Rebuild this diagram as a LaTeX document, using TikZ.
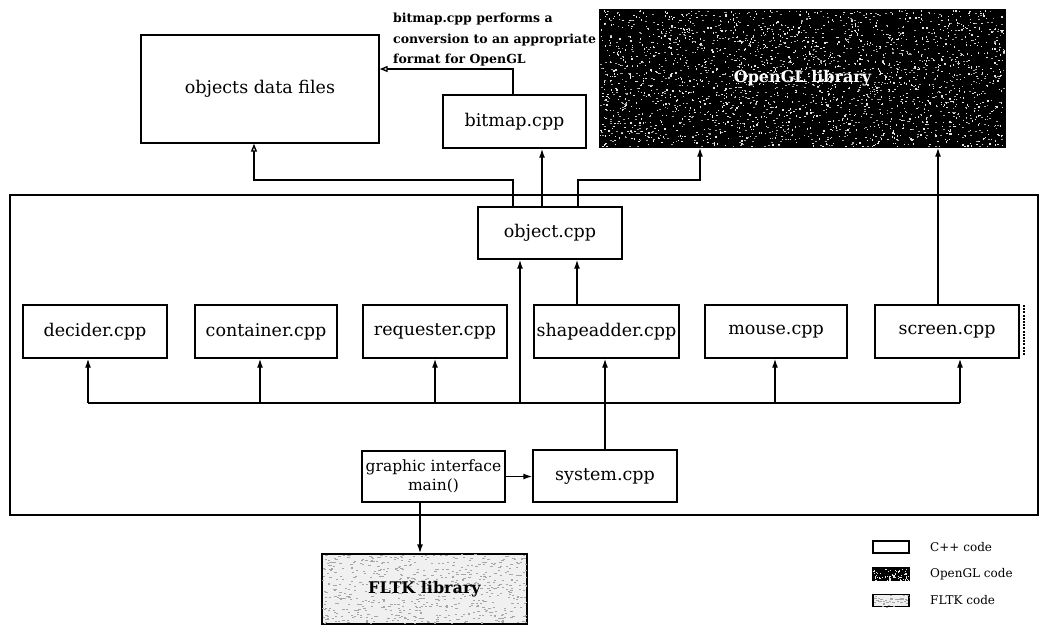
\documentclass[tikz,border=0pt]{standalone}
\usepackage{fontspec}
\setmainfont{DejaVu Serif}
\usetikzlibrary{arrows.meta}

\tikzset{
  cppbox/.style={draw, line width=1.4pt, inner sep=0pt, fill=white,
    font=\fontsize{17.5}{20}\selectfont},
  ln/.style={line width=1.4pt},
  fa/.style={ln, -{Latex[length=9pt,width=6pt]}},
  oa/.style={ln, -{Triangle[open,length=8pt,width=6pt]}},
  note/.style={font=\fontsize{12.5}{20.5}\selectfont\bfseries, align=left, inner sep=0pt},
  legtext/.style={font=\fontsize{12}{14}\selectfont, anchor=west, inner sep=0pt},
  libtext/.style={font=\fontsize{16}{18}\selectfont\bfseries, inner sep=0pt}
}

\begin{document}
\begin{tikzpicture}[x=1pt, y=-1pt]
\useasboundingbox (0,0) rectangle (1043,626);

% frame of the application code
\node[draw, line width=1.4pt, inner sep=0pt, minimum width=1028pt, minimum height=320pt] (app) at (524,355) {};

% upper row: data files, converter and graphics library
\node[cppbox, minimum width=238pt, minimum height=108pt] (objects) at (260,89) {objects data files};
\node[cppbox, minimum width=143pt, minimum height=53pt] (bitmap) at (514.5,121.5) {bitmap.cpp};
\node[draw, line width=1.4pt, fill=black, inner sep=0pt, minimum width=405pt, minimum height=137pt] (opengl) at (802.5,78.5) {};
\begin{scope}
  \clip (opengl.north west) rectangle (opengl.south east);
  \pgfmathsetseed{11}
  \foreach \i in {1,...,1700}{
    \pgfmathsetmacro{\px}{600+405*rnd}
    \pgfmathsetmacro{\py}{10+137*rnd}
    \fill[white!80!gray] (\px,\py) rectangle ++(1.3,1.3);
  }
  \pgfmathsetseed{23}
  \foreach \i in {1,...,900}{
    \pgfmathsetmacro{\px}{600+405*rnd}
    \pgfmathsetmacro{\py}{10+137*rnd}
    \fill[gray!70] (\px,\py) rectangle ++(1.8,1);
  }
\end{scope}
\draw[line width=1.4pt] (opengl.north west) rectangle (opengl.south east);
\node[libtext, text=white] (opengllbl) at (opengl.center) {OpenGL library};

\node[note, anchor=north west] (remark) at (393,13)
  {bitmap.cpp performs a\\conversion to an appropriate\\format for OpenGL};

% object module
\node[cppbox, minimum width=144pt, minimum height=52pt] (object) at (550,233) {object.cpp};

% middle row of modules
\node[cppbox, minimum width=144pt, minimum height=53pt] (decider) at (95,331.5) {decider.cpp};
\node[cppbox, minimum width=142pt, minimum height=53pt] (container) at (266,331.5) {container.cpp};
\node[cppbox, minimum width=144pt, minimum height=53pt] (requester) at (435,331.5) {requester.cpp};
\node[cppbox, minimum width=145pt, minimum height=53pt] (shapeadder) at (606.5,331.5) {shapeadder.cpp};
\node[cppbox, minimum width=142pt, minimum height=53pt] (mouse) at (776,331.5) {mouse.cpp};
\node[cppbox, minimum width=144pt, minimum height=53pt] (screen) at (947,331.5) {screen.cpp};
\draw[line width=2.6pt, dash pattern=on 2pt off 1.2pt] (1024,305) -- (1024,356);

% bottom row
\node[cppbox, minimum width=143pt, minimum height=51pt,
      font=\fontsize{15.5}{19}\selectfont, align=center] (gi) at (433.5,476.5) {graphic interface\\main()};
\node[cppbox, minimum width=144pt, minimum height=52pt] (system) at (605,476) {system.cpp};

% window toolkit
\node[draw, line width=1.4pt, fill=gray!12, inner sep=0pt, minimum width=205pt, minimum height=70pt] (fltk) at (424.5,589) {};
\begin{scope}
  \clip (fltk.north west) rectangle (fltk.south east);
  \pgfmathsetseed{5}
  \foreach \i in {1,...,650}{
    \pgfmathsetmacro{\px}{322+205*rnd}
    \pgfmathsetmacro{\py}{554+70*rnd}
    \fill[gray!70] (\px,\py) rectangle ++(2.2,0.9);
  }
\end{scope}
\draw[line width=1.4pt] (fltk.north west) rectangle (fltk.south east);
\node[libtext] (fltklbl) at (fltk.center) {FLTK library};

% call bus between the modules
\coordinate (busL) at (88,403);
\coordinate (busR) at (960,403);
\coordinate (b2) at (260,403);
\coordinate (b3) at (435,403);
\coordinate (b4) at (520,403);
\coordinate (b5) at (775,403);
\draw[ln] (busL) -- (busR);
\draw[fa] (busL) -- (busL |- decider.south);
\draw[fa] (b2) -- (b2 |- container.south);
\draw[fa] (b3) -- (b3 |- requester.south);
\draw[fa] (b4) -- (b4 |- object.south);
\draw[fa] (b5) -- (b5 |- mouse.south);
\draw[fa] (busR) -- (busR |- screen.south);

\coordinate (s1) at (605,0);
\draw[fa] (s1 |- system.north) -- (s1 |- shapeadder.south);
\coordinate (s2) at (577,0);
\draw[fa] (s2 |- shapeadder.north) -- (s2 |- object.south);

% links leaving object.cpp
\coordinate (o1) at (578,180);
\coordinate (o2) at (700,180);
\draw[fa] (o1 |- object.north) -- (o1) -- (o2) -- (o2 |- opengl.south);
\coordinate (o3) at (542,0);
\draw[fa] (o3 |- object.north) -- (o3 |- bitmap.south);
\coordinate (o4) at (513,180);
\coordinate (o5) at (254,180);
\draw[oa] (o4 |- object.north) -- (o4) -- (o5) -- (o5 |- objects.south);
\coordinate (o6) at (513,69);
\draw[oa] (o6 |- bitmap.north) -- (o6) -- (o6 -| objects.east);
\coordinate (o7) at (938,0);
\draw[fa] (o7 |- screen.north) -- (o7 |- opengl.south);

\draw[fa] (gi.east) -- (gi.east -| system.west);
\coordinate (o8) at (420,0);
\draw[fa] (o8 |- gi.south) -- (o8 |- fltk.north);

% legend
\node[draw, line width=1.1pt, inner sep=0pt, minimum width=36pt, minimum height=12pt] (lcpp) at (891,547) {};
\node[legtext] (lcpptxt) at (930,547) {C++ code};
\node[draw, line width=1.1pt, fill=black, inner sep=0pt, minimum width=36pt, minimum height=12pt] (lgl) at (891,574) {};
\begin{scope}
  \clip (lgl.north west) rectangle (lgl.south east);
  \pgfmathsetseed{3}
  \foreach \i in {1,...,60}{
    \pgfmathsetmacro{\px}{873+36*rnd}
    \pgfmathsetmacro{\py}{568+12*rnd}
    \fill[white!80!gray] (\px,\py) rectangle ++(1.2,1.2);
  }
\end{scope}
\node[legtext] (lgltxt) at (930,574) {OpenGL code};
\node[draw, line width=1.1pt, fill=gray!12, inner sep=0pt, minimum width=36pt, minimum height=12pt] (lfl) at (891,600.5) {};
\begin{scope}
  \clip (lfl.north west) rectangle (lfl.south east);
  \pgfmathsetseed{9}
  \foreach \i in {1,...,40}{
    \pgfmathsetmacro{\px}{873+36*rnd}
    \pgfmathsetmacro{\py}{595+12*rnd}
    \fill[gray!70] (\px,\py) rectangle ++(2.2,0.9);
  }
\end{scope}
\node[legtext] (lfltxt) at (930,600.5) {FLTK code};
\end{tikzpicture}
\end{document}
